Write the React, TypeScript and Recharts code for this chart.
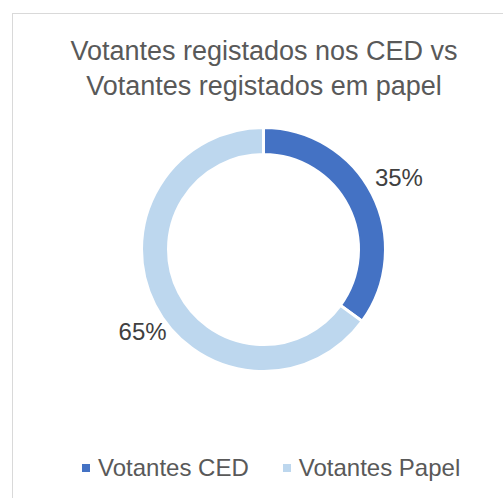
import React from 'react';
import { PieChart, Pie, Cell } from 'recharts';

const categories = ['Votantes CED', 'Votantes Papel'];
const values = [35, 65];
const colors = ['#4472C4', '#BDD7EE'];
const titleLines = ['Votantes registados nos CED vs', 'Votantes registados em papel'];

const data = categories.map((name, i) => ({ name, value: values[i] }));

const FONT = '"Liberation Sans", Arial, sans-serif';
const TEXT = '#595959';
const RAD = Math.PI / 180;
const labelNudge = [
  [0, -3],
  [14.5, 13],
];

const renderLabel = (props: any) => {
  const { cx, cy, midAngle, outerRadius, percent, index } = props;
  const r = outerRadius + 30;
  const x = cx + r * Math.cos(-midAngle * RAD) + labelNudge[index][0];
  const y = cy + r * Math.sin(-midAngle * RAD) + labelNudge[index][1];
  return (
    <text
      x={x}
      y={y}
      textAnchor="middle"
      dominantBaseline="central"
      fill="#404040"
      style={{ fontFamily: FONT, fontSize: 24 }}
    >
      {`${Math.round(percent * 100)}%`}
    </text>
  );
};

export default function App() {
  return (
    <div
      style={{
        position: 'absolute',
        left: 0,
        top: 0,
        width: 503,
        height: 498,
        overflow: 'hidden',
        background: '#fff',
        fontFamily: FONT,
      }}
    >
      <div
        style={{
          position: 'absolute',
          left: 12,
          top: 13,
          width: 504,
          height: 500,
          border: '1px solid #D9D9D9',
          boxSizing: 'border-box',
        }}
      />
      <div
        style={{
          position: 'absolute',
          left: 0,
          top: 34,
          width: 528,
          textAlign: 'center',
          color: TEXT,
          fontSize: 27,
          lineHeight: '35px',
          whiteSpace: 'nowrap',
        }}
      >
        {titleLines.map((t, i) => (
          <div key={i}>{t}</div>
        ))}
      </div>
      <div style={{ position: 'absolute', left: 0, top: 0 }}>
        <PieChart width={503} height={498} margin={{ top: 0, right: 0, bottom: 0, left: 0 }}>
          <Pie
            data={data}
            dataKey="value"
            nameKey="name"
            cx={263.5}
            cy={249.5}
            innerRadius={95}
            outerRadius={122}
            startAngle={90}
            endAngle={-270}
            stroke="#ffffff"
            strokeWidth={3}
            isAnimationActive={false}
            labelLine={false}
            label={renderLabel}
          >
            {data.map((d, i) => (
              <Cell key={d.name} fill={colors[i]} />
            ))}
          </Pie>
        </PieChart>
      </div>
      <div
        style={{
          position: 'absolute',
          left: 82,
          top: 454,
          display: 'flex',
          alignItems: 'center',
          color: TEXT,
          fontSize: 24,
          lineHeight: '28px',
          whiteSpace: 'nowrap',
        }}
      >
        {categories.map((c, i) => (
          <div
            key={c}
            style={{ display: 'flex', alignItems: 'center', marginLeft: i === 0 ? 0 : 34 }}
          >
            <span
              style={{
                display: 'inline-block',
                width: 8,
                height: 8,
                background: colors[i],
                marginRight: 8,
              }}
            />
            <span>{c}</span>
          </div>
        ))}
      </div>
    </div>
  );
}
